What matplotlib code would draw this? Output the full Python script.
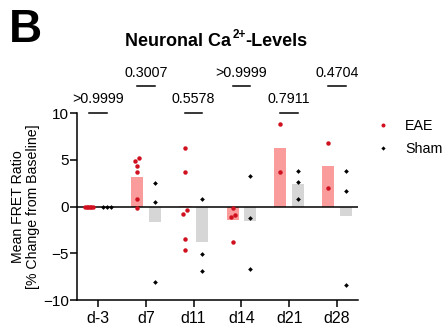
import matplotlib
matplotlib.use("Agg")
import matplotlib.pyplot as plt
import numpy as np

plt.rcParams["font.family"] = ["Liberation Sans", "DejaVu Sans"]

days = ["d-3", "d7", "d11", "d14", "d21", "d28"]
eae = [
    [0, 0, 0, 0, 0, 0],
    [5.14, 4.89, 4.32, 3.71, 0.78, -0.21],
    [6.28, 3.64, -0.40, -0.79, -3.47, -4.61],
    [-0.18, -0.90, -1.11, -3.79],
    [8.81, 3.70],
    [6.77, 1.95],
]
sham = [
    [0, 0, 0],
    [2.50, 0.46, -8.08],
    [0.78, -5.08, -6.93],
    [3.25, -1.22, -6.72],
    [3.84, 2.63, 0.80],
    [3.80, 1.70, -8.41],
]
p_values = [">0.9999", "0.3007", "0.5578", ">0.9999", "0.7911", "0.4704"]

EAE_DOT = "#d0101e"; EAE_BAR = "#fa9c9c"; SHAM_BAR = "#d6d6d6"
OFF, BW = 0.185, 0.25


def spread(vals, thr=0.45, step=0.085, width=0.16):
    """Prism-like horizontal spread for points that sit close in y"""
    v = np.asarray(vals, float)
    order = np.argsort(v)
    dx = np.zeros(len(v))
    groups, cur = [], [order[0]]
    for a, b in zip(order[:-1], order[1:]):
        if abs(v[b] - v[a]) < thr:
            cur.append(b)
        else:
            groups.append(cur); cur = [b]
    groups.append(cur)
    for g in groups:
        n = len(g)
        if n > 1:
            s = min(step, width / (n - 1))
            for i, k in enumerate(g):
                dx[k] = (i - (n - 1) / 2) * s
    return dx


fig = plt.figure(figsize=(4.44, 3.29), dpi=100)
ax = fig.add_axes([0.1734, 0.0881, 0.633, 0.5684])

x = np.arange(len(days))
ax.bar(x - OFF, [np.mean(v) for v in eae], BW, color=EAE_BAR, zorder=1)
ax.bar(x + OFF, [np.mean(v) for v in sham], BW, color=SHAM_BAR, zorder=1)
ax.axhline(0, color="black", lw=1.1, zorder=2)

for i in range(len(days)):
    e = np.asarray(eae[i]); s = np.asarray(sham[i])
    ax.plot(x[i] - OFF + spread(e), e, "o", ms=3.2, color=EAE_DOT, mec="none",
            zorder=3, label="EAE" if i == 0 else None)
    ax.plot(x[i] + OFF + spread(s), s, "D", ms=2.4, color="black", mec="none",
            zorder=3, label="Sham" if i == 0 else None)

# comparison lines + p-values, alternating heights
for i, p in enumerate(p_values):
    yl, yt = (10.0, 11.45) if i % 2 == 0 else (12.9, 14.3)
    ax.plot([x[i] - OFF, x[i] + OFF], [yl, yl], color="black", lw=1.1, clip_on=False)
    ax.text(x[i], yt, p, ha="center", va="center", fontsize=10.3)

ax.set_xlim(-0.44, 5.44)
ax.set_ylim(-10, 10)
ax.set_yticks([-10, -5, 0, 5, 10])
ax.set_xticks(x)
ax.set_xticklabels(days, fontsize=11.5)
ax.tick_params(axis="y", labelsize=11, length=5, width=1.1, pad=1)
ax.tick_params(axis="x", length=5, width=1.1, pad=3)
for k in ("top", "right"):
    ax.spines[k].set_visible(False)
for k in ("left", "bottom"):
    ax.spines[k].set_linewidth(1.1)
ax.set_ylabel("Mean FRET Ratio\n[% Change from Baseline]", fontsize=10.2,
              linespacing=1.05, labelpad=2)

ax.legend(loc="upper left", bbox_to_anchor=(1.014, 1.035), frameon=False,
          fontsize=10.3, handletextpad=0.9, labelspacing=0.6, markerscale=0.9,
          handlelength=1.2)

fig.text(0.02, 0.975, "B", fontsize=33, fontweight="bold", va="top", ha="left")

# title built from pieces so the superscript sits tight to "Ca"
W = fig.bbox.width
fig.canvas.draw()
t1 = fig.text(0.2815, 0.873, "Neuronal Ca", fontsize=13, fontweight="bold",
              ha="left", va="center")
fig.canvas.draw()
x1 = t1.get_window_extent().x1 / W
t2 = fig.text(x1 + 0.003, 0.895, "2+", fontsize=8.5, fontweight="bold",
              ha="left", va="center")
fig.canvas.draw()
x2 = t2.get_window_extent().x1 / W
fig.text(x2, 0.873, "-Levels", fontsize=13, fontweight="bold",
         ha="left", va="center")

fig.savefig("out.png", dpi=100)
